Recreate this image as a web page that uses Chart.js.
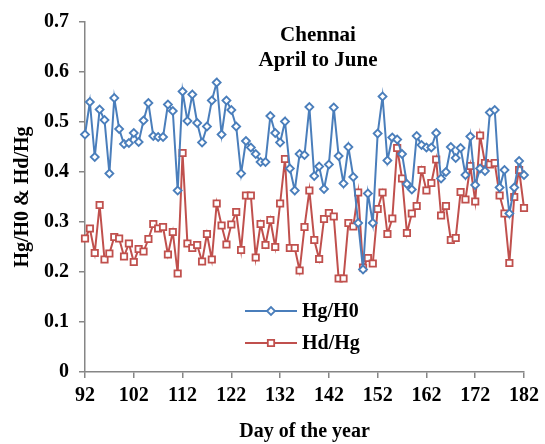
<!DOCTYPE html>
<html>
<head>
<meta charset="utf-8">
<script src="https://cdn.jsdelivr.net/npm/chart.js@4.4.0/dist/chart.umd.min.js"></script>
<style>
  html, body { margin: 0; padding: 0; background: #fff; }
  #wrap { width: 545px; height: 444px; }
</style>
</head>
<body>
<div id="wrap"><canvas id="grafico" width="545" height="444"></canvas></div>
<script>
// Dias do ano (92 a 182)
const dias = [];
for (let d = 92; d <= 182; d++) dias.push(d);

// Hg/H0
const hgH0 = [
  0.475, 0.540, 0.430, 0.525, 0.504, 0.397, 0.548, 0.486, 0.456, 0.458,
  0.478, 0.460, 0.503, 0.538, 0.472, 0.470, 0.470, 0.535, 0.522, 0.363,
  0.561, 0.502, 0.555, 0.498, 0.459, 0.491, 0.543, 0.579, 0.475, 0.543,
  0.524, 0.491, 0.397, 0.462, 0.449, 0.436, 0.420, 0.420, 0.512, 0.478,
  0.459, 0.501, 0.407, 0.363, 0.436, 0.434, 0.530, 0.392, 0.411, 0.366,
  0.415, 0.529, 0.432, 0.377, 0.450, 0.390, 0.298, 0.205, 0.357, 0.298,
  0.477, 0.551, 0.423, 0.469, 0.465, 0.436, 0.376, 0.365, 0.472, 0.454,
  0.449, 0.449, 0.478, 0.387, 0.400, 0.450, 0.428, 0.448, 0.394, 0.471,
  0.374, 0.407, 0.402, 0.519, 0.524, 0.369, 0.404, 0.317, 0.369, 0.422,
  0.394
];

// Hd/Hg
const hdHg = [
  0.267, 0.287, 0.238, 0.334, 0.225, 0.237, 0.270, 0.267, 0.231, 0.257,
  0.220, 0.246, 0.241, 0.266, 0.296, 0.287, 0.290, 0.235, 0.280, 0.197,
  0.438, 0.257, 0.248, 0.254, 0.221, 0.276, 0.225, 0.337, 0.293, 0.255,
  0.295, 0.320, 0.244, 0.353, 0.353, 0.229, 0.296, 0.254, 0.304, 0.250,
  0.337, 0.426, 0.248, 0.248, 0.203, 0.290, 0.363, 0.264, 0.226, 0.306,
  0.318, 0.311, 0.187, 0.187, 0.298, 0.291, 0.359, 0.209, 0.228, 0.217,
  0.326, 0.359, 0.276, 0.307, 0.448, 0.387, 0.278, 0.317, 0.332, 0.404,
  0.363, 0.378, 0.425, 0.313, 0.332, 0.264, 0.268, 0.360, 0.345, 0.412,
  0.341, 0.473, 0.418, 0.415, 0.418, 0.353, 0.317, 0.218, 0.350, 0.404,
  0.328
];

// Marcas dos eixos
const ticksX = [92, 102, 112, 122, 132, 142, 152, 162, 172, 182];
const ticksY = [0, 0.1, 0.2, 0.3, 0.4, 0.5, 0.6, 0.7];

const azul = '#4a7ebb';
const vermelho = '#c0504d';
const fonte = '"Liberation Serif", "Times New Roman", serif';

const pontos = serie => serie.map((v, i) => ({ x: dias[i], y: v }));

// Plugin para título e legenda dentro da área do gráfico
const extras = {
  id: 'extras',
  afterDraw(chart) {
    const ctx = chart.ctx;
    ctx.save();
    ctx.fillStyle = '#000';
    ctx.font = 'bold 21px ' + fonte;
    ctx.textAlign = 'center';
    ctx.textBaseline = 'middle';
    ctx.fillText('Chennai', 318, 36);
    ctx.fillText('April to June', 318, 61);

    chart.data.datasets.forEach((ds, i) => {
      const y = 311 + i * 32;
      ctx.strokeStyle = ds.borderColor;
      ctx.lineWidth = 2;
      ctx.beginPath();
      ctx.moveTo(245, y);
      ctx.lineTo(297, y);
      ctx.stroke();
      ctx.fillStyle = '#fff';
      ctx.lineWidth = ds.pointBorderWidth;
      Chart.helpers.drawPoint(ctx, {
        pointStyle: ds.pointStyle,
        radius: ds.pointRadius,
        borderWidth: ds.pointBorderWidth,
        rotation: 0
      }, 271, y);
      ctx.fillStyle = '#000';
      ctx.font = 'bold 20px ' + fonte;
      ctx.textAlign = 'left';
      ctx.fillText(ds.label, 302, y + 1);
    });
    ctx.restore();
  }
};

const config = {
  type: 'line',
  data: {
    datasets: [{
      label: 'Hg/H0',
      data: pontos(hgH0),
      borderColor: azul,
      backgroundColor: '#fff',
      borderWidth: 2,
      pointStyle: 'rectRot',
      pointRadius: 4,
      pointBorderWidth: 1.8,
      pointBorderColor: azul,
      pointBackgroundColor: '#fff',
      tension: 0,
      clip: false
    }, {
      label: 'Hd/Hg',
      data: pontos(hdHg),
      borderColor: vermelho,
      backgroundColor: '#fff',
      borderWidth: 2,
      pointStyle: 'rect',
      pointRadius: 4.5,
      pointBorderWidth: 1.8,
      pointBorderColor: vermelho,
      pointBackgroundColor: '#fff',
      tension: 0,
      clip: false
    }]
  },
  options: {
    responsive: false,
    animation: false,
    layout: { padding: { top: 13, right: 20, left: 11, bottom: 0 } },
    plugins: {
      legend: { display: false },
      tooltip: { enabled: false }
    },
    scales: {
      x: {
        type: 'linear',
        min: 92,
        max: 182,
        afterBuildTicks: s => { s.ticks = ticksX.map(v => ({ value: v })); },
        afterFit: s => { s.height = 72; },
        grid: { drawOnChartArea: false, drawTicks: true, tickLength: 6, color: '#868686', lineWidth: 1.5 },
        border: { color: '#868686', width: 1.5 },
        ticks: { color: '#000', padding: 6, font: { family: fonte, size: 20, weight: 'bold' } },
        title: {
          display: true,
          text: 'Day of the year',
          color: '#000',
          padding: { top: 4, bottom: 0 },
          font: { family: fonte, size: 20, weight: 'bold' }
        }
      },
      y: {
        min: 0,
        max: 0.7,
        afterBuildTicks: s => { s.ticks = ticksY.map(v => ({ value: v })); },
        afterFit: s => { s.width = 74; },
        grid: { drawOnChartArea: false, drawTicks: true, tickLength: 6, color: '#868686', lineWidth: 1.5 },
        border: { color: '#868686', width: 1.5 },
        ticks: {
          color: '#000',
          padding: 10,
          font: { family: fonte, size: 20, weight: 'bold' },
          callback: v => v === 0 ? '0' : v.toFixed(1)
        },
        title: {
          display: true,
          text: 'Hg/H0 & Hd/Hg',
          color: '#000',
          padding: { top: 0, bottom: 0 },
          font: { family: fonte, size: 20, weight: 'bold' }
        }
      }
    }
  },
  plugins: [extras]
};

new Chart(document.getElementById('grafico'), config);
</script>
</body>
</html>
